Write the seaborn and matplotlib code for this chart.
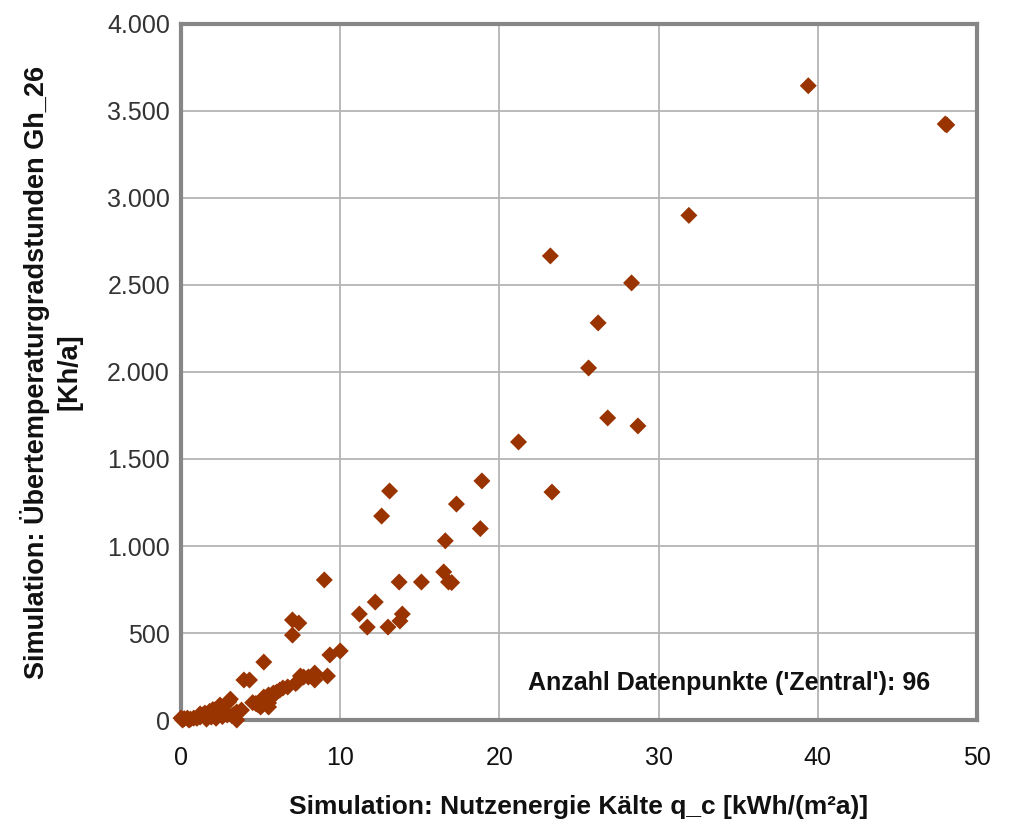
import matplotlib
matplotlib.use("Agg")
import matplotlib.pyplot as plt
import matplotlib.ticker as mticker
import seaborn as sns
import pandas as pd

# values
q_c = [39.4, 48.0, 48.1, 31.9, 23.2, 28.3, 26.2, 25.6, 26.8, 28.7,
       21.2, 23.3, 18.9, 17.3, 18.8, 16.6, 13.1, 12.6, 16.5, 16.8,
       17.0, 15.1, 13.7, 12.2, 11.2, 13.9, 13.75, 11.7, 13.0, 10.0,
       9.35, 9.2, 9.0, 7.0, 7.4, 7.0, 5.2, 8.4, 8.4, 8.0,
       7.7, 7.5, 7.3, 7.2, 6.4, 6.2, 5.9, 5.8, 5.5, 5.6,
       5.2, 5.5, 5.1, 5.5, 5.0, 4.5, 4.3, 3.95, 3.1, 3.0,
       3.5, 3.8, 3.3, 3.5, 2.9, 2.45, 2.4, 2.0, 2.1, 2.3,
       1.8, 1.9, 1.5, 1.4, 1.2, 1.0, 0.8, 0.6, 0.4, 0.2,
       0.0, 2.6, 2.2, 1.6, 4.8, 6.7, 4.7, 1.2, 0.1, 0.5,
       2.7, 3.2, 5.3, 6.0, 1.7, 2.0]
gh_26 = [3645, 3425, 3420, 2900, 2667, 2512, 2282, 2023, 1736, 1690,
         1598, 1310, 1374, 1241, 1100, 1030, 1316, 1172, 851, 793,
         790, 793, 793, 678, 609, 609, 569, 534, 534, 397,
         374, 253, 805, 575, 557, 488, 333, 270, 230, 247,
         247, 253, 218, 210, 184, 172, 150, 155, 144, 126,
         132, 98, 86, 75, 75, 100, 230, 230, 120, 105,
         46, 57, 30, 0, 29, 86, 75, 60, 57, 40,
         50, 17, 40, 30, 17, 10, 11, 5, 11, 8,
         11, 20, 10, 5, 90, 190, 95, 35, 0, 0,
         50, 25, 115, 160, 25, 30]

df = pd.DataFrame({"q_c": q_c, "gh": gh_26})

sns.set_style("white")
plt.rcParams["font.family"] = ["Liberation Sans", "DejaVu Sans"]

fig = plt.figure(figsize=(10.13, 8.26), dpi=100)
ax = fig.add_axes([0.1787, 0.1283, 0.7858, 0.8427])

sns.scatterplot(data=df, x="q_c", y="gh", marker="D", s=75, color="#993300",
                edgecolor="none", clip_on=False, zorder=5, ax=ax)

ax.set_xlim(0, 50)
ax.set_ylim(0, 4000)
ax.set_xticks(range(0, 51, 10))
ax.set_yticks(range(0, 4001, 500))
ax.yaxis.set_major_formatter(mticker.FuncFormatter(
    lambda v, p: f"{int(v):,}".replace(",", ".")))

ax.grid(True, color="#b4b4b4", linewidth=1.3)
ax.set_axisbelow(True)
for sp in ax.spines.values():
    sp.set_visible(True)
    sp.set_color("#868686")
    sp.set_linewidth(3)

ax.tick_params(axis="both", length=0)
ax.tick_params(axis="y", pad=8, labelsize=18, labelcolor="#333333")
ax.tick_params(axis="x", pad=19, labelsize=18, labelcolor="#111111")

ax.set_xlabel("Simulation: Nutzenergie Kälte q_c [kWh/(m²a)]",
              fontsize=19, fontweight="bold", labelpad=18, color="#111111")
ax.set_ylabel("Simulation: Übertemperaturgradstunden Gh_26\n[Kh/a]",
              fontsize=19.5, fontweight="bold", labelpad=18, linespacing=1.3,
              color="#111111")

ax.text(0.941, 0.053, "Anzahl Datenpunkte ('Zentral'): 96", transform=ax.transAxes,
        ha="right", va="center", fontsize=18, fontweight="bold", color="#111111")

fig.savefig("out.png", dpi=100)
